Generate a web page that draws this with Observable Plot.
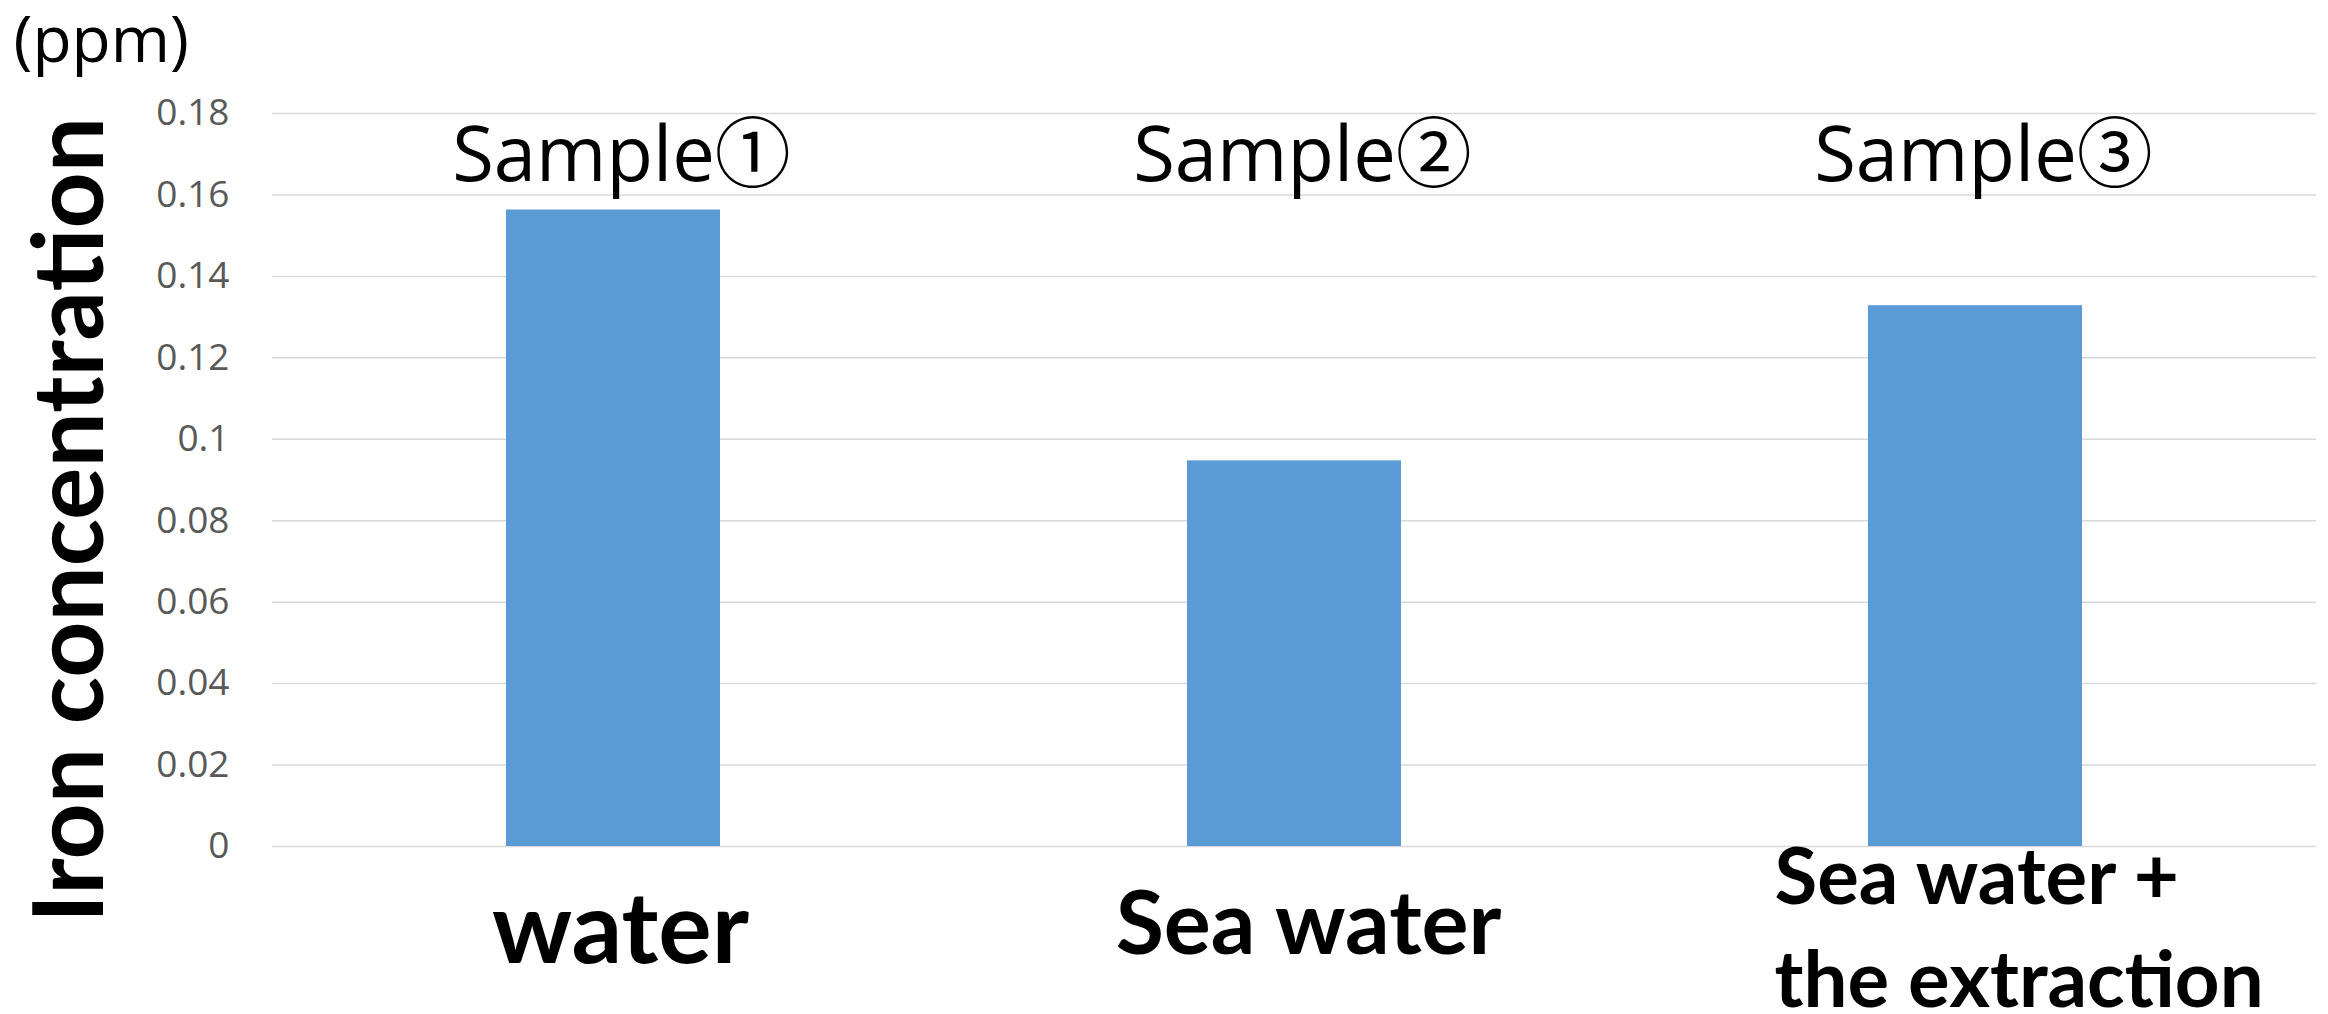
<!DOCTYPE html>
<html>
<head>
<meta charset="utf-8">
<script src="https://cdn.jsdelivr.net/npm/d3@7"></script>
<script src="https://cdn.jsdelivr.net/npm/@observablehq/plot@0.6"></script>
<style>
  html, body { margin: 0; padding: 0; background: #fff; }
  svg { display: block; }
</style>
</head>
<body>
<div id="chart"></div>
<script>
// ---- data ----
const categories = ["water", "Sea water", "Sea water +\nthe extraction"];
const sampleLabels = ["Sample①", "Sample②", "Sample③"];
const ironPpm = [0.1563, 0.0947, 0.1328];
const yTicks = [0, 0.02, 0.04, 0.06, 0.08, 0.1, 0.12, 0.14, 0.16, 0.18];
const yAxisTitle = "Iron concentration";
const yUnit = "(ppm)";

const data = categories.map((c, i) => ({category: c, sample: sampleLabels[i], value: ironPpm[i]}));

const boldFont = "Lato, 'Open Sans', sans-serif";

const chart = Plot.plot({
  width: 2328,
  height: 1014,
  marginTop: 113,
  marginBottom: 168,
  marginLeft: 272,
  marginRight: 12,
  style: {fontFamily: "'Open Sans', sans-serif", background: "#fff", overflow: "visible", color: "#000"},
  x: {domain: categories, paddingInner: 0.686, paddingOuter: 0.343, axis: null},
  y: {domain: [0, 0.18], axis: null},
  marks: [
    Plot.gridY(yTicks, {stroke: "#d9d9d9", strokeOpacity: 1, strokeWidth: 1.5}),
    Plot.barY(data, {x: "category", y: "value", fill: "#5b9bd5"}),
    Plot.axisY(yTicks, {
      tickSize: 0, tickPadding: 43, fontSize: 37, color: "#595959",
      tickFormat: d => String(d), label: null
    }),
    // sample labels above
    Plot.text(data, {
      x: "category", text: "sample", frameAnchor: "top", lineAnchor: "bottom",
      dy: 67, dx: 8, fontSize: 76, fill: "#000",
      fontFamily: "'Open Sans', 'Noto Sans CJK JP', sans-serif"
    }),
    // category labels below
    Plot.text([data[0]], {
      x: "category", text: "category", frameAnchor: "bottom", lineAnchor: "bottom",
      dy: 116, dx: 7, fontSize: 100, fontWeight: "bold", fontFamily: boldFont, fill: "#000"
    }),
    Plot.text([data[1]], {
      x: "category", text: "category", frameAnchor: "bottom", lineAnchor: "bottom",
      dy: 107, dx: 14, fontSize: 88, fontWeight: "bold", fontFamily: boldFont, fill: "#000"
    }),
    Plot.text([data[2]], {
      x: "category", text: "category", frameAnchor: "bottom", lineAnchor: "bottom",
      textAnchor: "start", dy: 160, dx: -201, fontSize: 78, lineHeight: 1.32,
      fontWeight: "bold", fontFamily: boldFont, fill: "#000"
    }),
    // y axis title (rotated)
    Plot.text([yAxisTitle], {
      text: d => d, frameAnchor: "left", rotate: -90, lineAnchor: "bottom", textAnchor: "middle",
      dx: -170, dy: 40, fontSize: 98, fontWeight: "bold", fontFamily: boldFont, fill: "#000"
    }),
    // unit
    Plot.text([yUnit], {
      text: d => d, frameAnchor: "top-left", textAnchor: "start", lineAnchor: "bottom",
      dx: -259, dy: -52, fontSize: 64, fill: "#000"
    })
  ]
});

document.getElementById("chart").appendChild(chart);
</script>
</body>
</html>
